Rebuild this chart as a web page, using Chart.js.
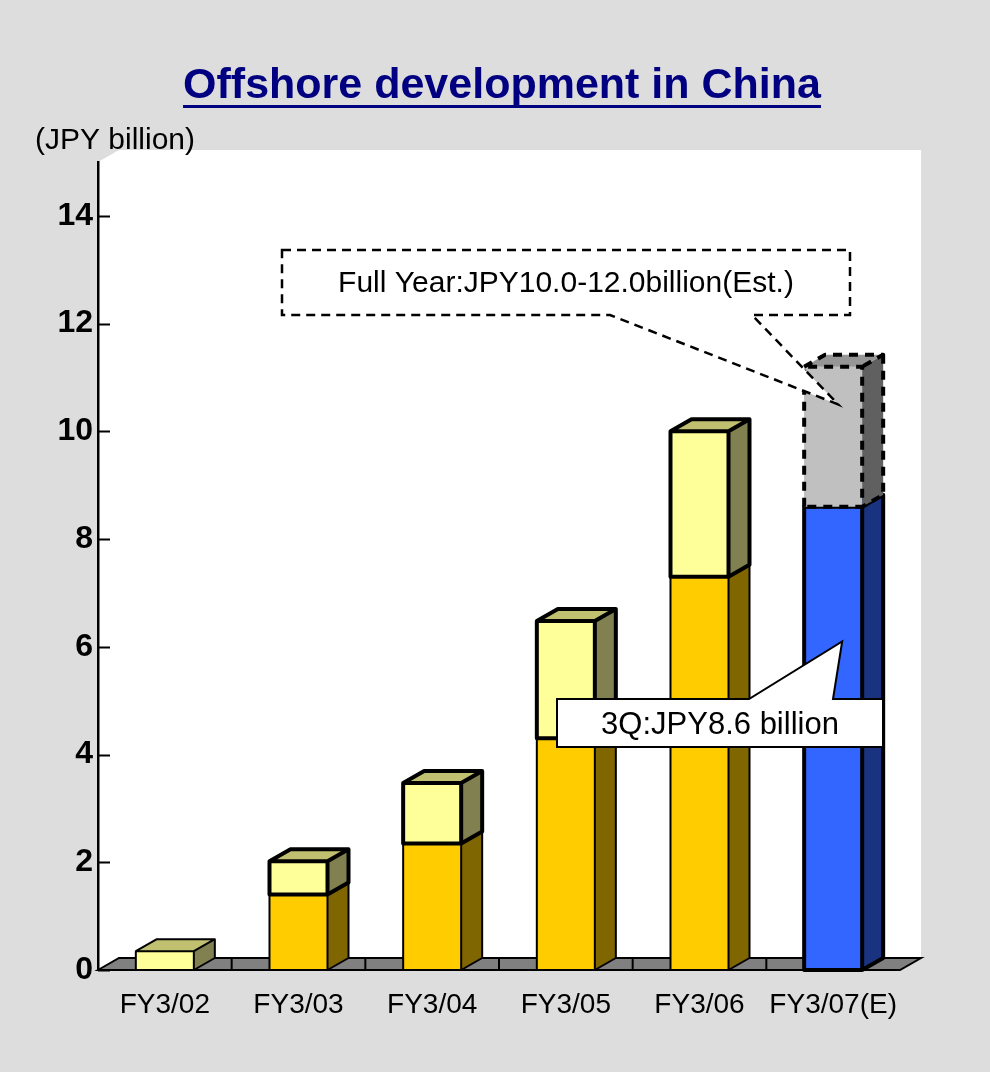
<!DOCTYPE html>
<html><head><meta charset="utf-8">
<script src="https://cdn.jsdelivr.net/npm/chart.js@4.4.0/dist/chart.umd.min.js"></script>
<style>html,body{margin:0;padding:0;background:#dddddd;}canvas{display:block;}</style>
</head><body>
<canvas id="c" width="990" height="1072"></canvas>
<script>
// ---- data ----
const categories = ["FY3/02", "FY3/03", "FY3/04", "FY3/05", "FY3/06", "FY3/07(E)"];
const throughQ3 = [0, 1.4, 2.35, 4.3, 7.3, 8.6];
const fourthQ = [0.35, 0.62, 1.12, 2.18, 2.7, null];
const fourthQEst = [null, null, null, null, null, 2.6];
const yTicks = [0, 2, 4, 6, 8, 10, 12, 14];
const titleText = "Offshore development in China";
const unitText = "(JPY billion)";
const fullYearNote = "Full Year:JPY10.0-12.0billion(Est.)";
const q3Note = "3Q:JPY8.6 billion";

const FONT = '"Liberation Sans", Arial, sans-serif';
const DX = 21, DY = 12;

Chart.defaults.font.family = FONT;

function pick(v, i) { return Array.isArray(v) ? v[i] : v; }

const bgPlugin = {
  id: 'bg3d',
  beforeDraw(chart) {
    const ctx = chart.ctx, a = chart.chartArea;
    ctx.save();
    ctx.fillStyle = '#dddddd';
    ctx.fillRect(0, 0, chart.width, chart.height);
    // white walls
    ctx.fillStyle = '#ffffff';
    ctx.beginPath();
    ctx.moveTo(a.left, a.top);
    ctx.lineTo(a.left + DX, a.top - DY);
    ctx.lineTo(a.right + DX, a.top - DY);
    ctx.lineTo(a.right + DX, a.bottom - DY);
    ctx.lineTo(a.right, a.bottom);
    ctx.lineTo(a.left, a.bottom);
    ctx.closePath();
    ctx.fill();
    // floor
    const B = chart.scales.y.getPixelForValue(0);
    ctx.fillStyle = '#808080';
    ctx.strokeStyle = '#000';
    ctx.lineWidth = 2;
    ctx.beginPath();
    ctx.moveTo(a.left, B);
    ctx.lineTo(a.left + DX, B - DY);
    ctx.lineTo(a.right + DX, B - DY);
    ctx.lineTo(a.right, B);
    ctx.closePath();
    ctx.fill();
    ctx.stroke();
    const xs = chart.scales.x;
    const n = categories.length;
    const cw = (xs.right - xs.left) / n;
    ctx.beginPath();
    for (let k = 1; k < n; k++) {
      const px = xs.left + k * cw;
      ctx.moveTo(px, B - DY);
      ctx.lineTo(px, B);
    }
    ctx.stroke();
    // title
    ctx.fillStyle = '#000080';
    ctx.font = 'bold 43px ' + FONT;
    ctx.textAlign = 'center';
    ctx.textBaseline = 'alphabetic';
    ctx.fillText(titleText, 502, 98);
    const tw = ctx.measureText(titleText).width;
    ctx.fillRect(502 - tw / 2, 105, tw, 3);
    // unit
    ctx.fillStyle = '#000';
    ctx.font = '30px ' + FONT;
    ctx.textAlign = 'left';
    ctx.fillText(unitText, 35, 149);
    ctx.restore();
  },
  afterDatasetsDraw(chart) {
    const ctx = chart.ctx;
    chart.data.datasets.forEach((ds, di) => {
      const meta = chart.getDatasetMeta(di);
      meta.data.forEach((el, i) => {
        const v = ds.data[i];
        if (v == null || v === 0) return;
        const p = el.getProps(['x', 'y', 'base', 'width'], true);
        const l = p.x - p.width / 2, r = p.x + p.width / 2, t = p.y, b = p.base;
        ctx.save();
        // front
        ctx.fillStyle = pick(ds.backgroundColor, i);
        ctx.fillRect(l, t, r - l, b - t);
        // side
        ctx.fillStyle = pick(ds.sideColor, i);
        ctx.beginPath();
        ctx.moveTo(r, t); ctx.lineTo(r + DX, t - DY); ctx.lineTo(r + DX, b - DY); ctx.lineTo(r, b); ctx.closePath();
        ctx.fill();
        // top
        ctx.fillStyle = pick(ds.topColor, i);
        ctx.beginPath();
        ctx.moveTo(l, t); ctx.lineTo(l + DX, t - DY); ctx.lineTo(r + DX, t - DY); ctx.lineTo(r, t); ctx.closePath();
        ctx.fill();
        // edges
        ctx.strokeStyle = '#000';
        ctx.lineWidth = pick(ds.edgeWidth, i);
        ctx.lineJoin = 'round';
        if (ds.edgeDash) ctx.setLineDash(ds.edgeDash);
        ctx.beginPath();
        ctx.moveTo(l, b); ctx.lineTo(l, t); ctx.lineTo(r, t); ctx.lineTo(r, b); ctx.closePath();
        ctx.moveTo(l, t); ctx.lineTo(l + DX, t - DY); ctx.lineTo(r + DX, t - DY); ctx.lineTo(r, t);
        ctx.moveTo(r + DX, t - DY); ctx.lineTo(r + DX, b - DY); ctx.lineTo(r, b);
        ctx.stroke();
        ctx.restore();
      });
    });
  },
  afterDraw(chart) {
    const ctx = chart.ctx, ys = chart.scales.y;
    const estEl = chart.getDatasetMeta(2).data[5].getProps(['x', 'y'], true);
    const blueEl = chart.getDatasetMeta(0).data[5].getProps(['x', 'y'], true);
    ctx.save();
    // Full year callout
    const tip1 = { x: estEl.x + 5, y: ys.getPixelForValue(10.5) };
    ctx.beginPath();
    ctx.moveTo(282, 250); ctx.lineTo(850, 250); ctx.lineTo(850, 315);
    ctx.lineTo(752, 315); ctx.lineTo(tip1.x, tip1.y); ctx.lineTo(610, 315);
    ctx.lineTo(282, 315); ctx.closePath();
    ctx.fillStyle = '#fff';
    ctx.fill();
    ctx.setLineDash([9, 6]);
    ctx.lineWidth = 2.5;
    ctx.strokeStyle = '#000';
    ctx.stroke();
    ctx.setLineDash([]);
    ctx.fillStyle = '#000';
    ctx.font = '30px ' + FONT;
    ctx.textAlign = 'center';
    ctx.textBaseline = 'middle';
    ctx.fillText(fullYearNote, 566, 284);
    // 3Q callout
    const tip2 = { x: blueEl.x + 9, y: ys.getPixelForValue(6.1) };
    ctx.beginPath();
    ctx.moveTo(557, 699); ctx.lineTo(749, 699); ctx.lineTo(tip2.x, tip2.y);
    ctx.lineTo(833, 699); ctx.lineTo(883, 699); ctx.lineTo(883, 747);
    ctx.lineTo(557, 747); ctx.closePath();
    ctx.fillStyle = '#fff';
    ctx.fill();
    ctx.lineWidth = 2;
    ctx.stroke();
    ctx.fillStyle = '#000';
    ctx.font = '31px ' + FONT;
    ctx.fillText(q3Note, 720, 725);
    ctx.restore();
  }
};

new Chart(document.getElementById('c'), {
  type: 'bar',
  data: {
    labels: categories,
    datasets: [
      {
        label: '1Q-3Q', data: throughQ3,
        backgroundColor: ['#FFCC00', '#FFCC00', '#FFCC00', '#FFCC00', '#FFCC00', '#3366FF'],
        sideColor: ['#806600', '#806600', '#806600', '#806600', '#806600', '#1A3380'],
        topColor: ['#C0A000', '#C0A000', '#C0A000', '#C0A000', '#C0A000', '#2850C0'],
        edgeWidth: [2, 2, 2, 2, 2, 4]
      },
      {
        label: '4Q', data: fourthQ,
        backgroundColor: '#FFFF99', sideColor: '#808050', topColor: '#C0C070',
        edgeWidth: [2, 4, 4, 4, 4, 4]
      },
      {
        label: '4Q (Est.)', data: fourthQEst,
        backgroundColor: '#C0C0C0', sideColor: '#606060', topColor: '#969696',
        edgeWidth: 4, edgeDash: [9, 7]
      }
    ]
  },
  options: {
    responsive: false,
    animation: false,
    devicePixelRatio: 1,
    layout: { padding: { top: 162, right: 90, left: 0, bottom: 0 } },
    datasets: { bar: { borderWidth: 0, categoryPercentage: 1, barPercentage: 0.434 } },
    plugins: { legend: { display: false }, tooltip: { enabled: false } },
    scales: {
      x: {
        stacked: true,
        grid: { display: false, drawTicks: false },
        border: { display: false },
        ticks: { color: '#000', font: { size: 28 }, padding: 18, maxRotation: 0, autoSkip: false },
        afterFit(s) { s.height = 102; }
      },
      y: {
        stacked: true, min: 0, max: 15,
        afterBuildTicks(s) { s.ticks = yTicks.map(v => ({ value: v })); },
        grid: { display: false, drawTicks: false },
        border: { display: true, color: '#000', width: 2.5 },
        ticks: { color: '#000', font: { size: 32, weight: 'bold' }, padding: 5 },
        afterFit(s) { s.width = 98; }
      }
    }
  },
  plugins: [bgPlugin, {
    id: 'yTickMarks',
    afterDraw(chart) {
      const ctx = chart.ctx, ys = chart.scales.y, a = chart.chartArea;
      ctx.save();
      ctx.strokeStyle = '#000';
      ctx.lineWidth = 2;
      ctx.beginPath();
      yTicks.forEach(v => {
        const py = Math.round(ys.getPixelForValue(v)) + 0.5;
        ctx.moveTo(a.left, py); ctx.lineTo(a.left + 12, py);
      });
      ctx.stroke();
      ctx.restore();
    }
  }]
});
</script>
</body></html>
